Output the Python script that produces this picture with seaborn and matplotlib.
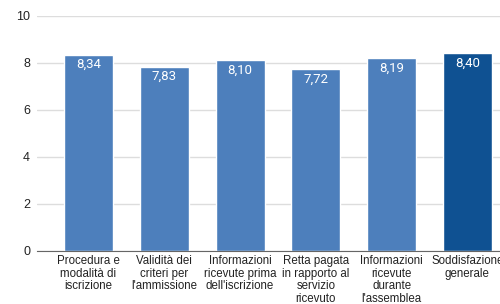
import pandas as pd
import matplotlib
matplotlib.use("Agg")
from matplotlib import pyplot as plt
import seaborn as sns

categories = [
    "Procedura e\nmodalità di\niscrizione",
    "Validità dei\ncriteri per\nl'ammissione",
    "Informazioni\nricevute prima\ndell'iscrizione",
    "Retta pagata\nin rapporto al\nservizio\nricevuto",
    "Informazioni\nricevute\ndurante\nl'assemblea\niniziale",
    "Soddisfazione\ngenerale",
]
values = [8.34, 7.83, 8.10, 7.72, 8.19, 8.40]
colors = ["#4d7fbc", "#4d7fbc", "#4d7fbc", "#4d7fbc", "#4d7fbc", "#0f5192"]
yticks = [0, 2, 4, 6, 8, 10]

df = pd.DataFrame({"cat": categories, "val": values})

sns.set_style("white")
plt.rcParams["font.family"] = ["Liberation Sans", "DejaVu Sans"]

fig = plt.figure(figsize=(5, 3.04), dpi=100)
ax = fig.add_axes([0.074, 0.175, 0.926, 0.773])

sns.barplot(data=df, x="cat", y="val", hue="cat", palette=colors,
            saturation=1, legend=False, width=0.645, ax=ax, zorder=3)

for i, v in enumerate(values):
    ax.annotate(f"{v:.2f}".replace(".", ","), (i, v), xytext=(0, -7),
                textcoords="offset points", ha="center", va="center",
                color="white", fontsize=9.5, family="Roboto", zorder=4)

ax.set_ylim(0, 10)
ax.set_xlim(-0.68, 5.43)
ax.set_yticks(yticks)
ax.set_yticklabels([str(t) for t in yticks])
ax.grid(axis="y", color="#dddddd", linewidth=1, zorder=0)
ax.grid(axis="x", visible=False)
for s in ["top", "right", "left"]:
    ax.spines[s].set_visible(False)
ax.spines["bottom"].set_color("#666666")
ax.spines["bottom"].set_zorder(5)
ax.tick_params(axis="y", length=0, labelsize=9, colors="#222222", pad=5)
ax.tick_params(axis="x", length=0, labelsize=8.3, colors="#222222", pad=3)
for lbl in ax.get_xticklabels():
    lbl.set_linespacing(1.08)
ax.set_xlabel("")
ax.set_ylabel("")

fig.savefig("out.png", dpi=100)
